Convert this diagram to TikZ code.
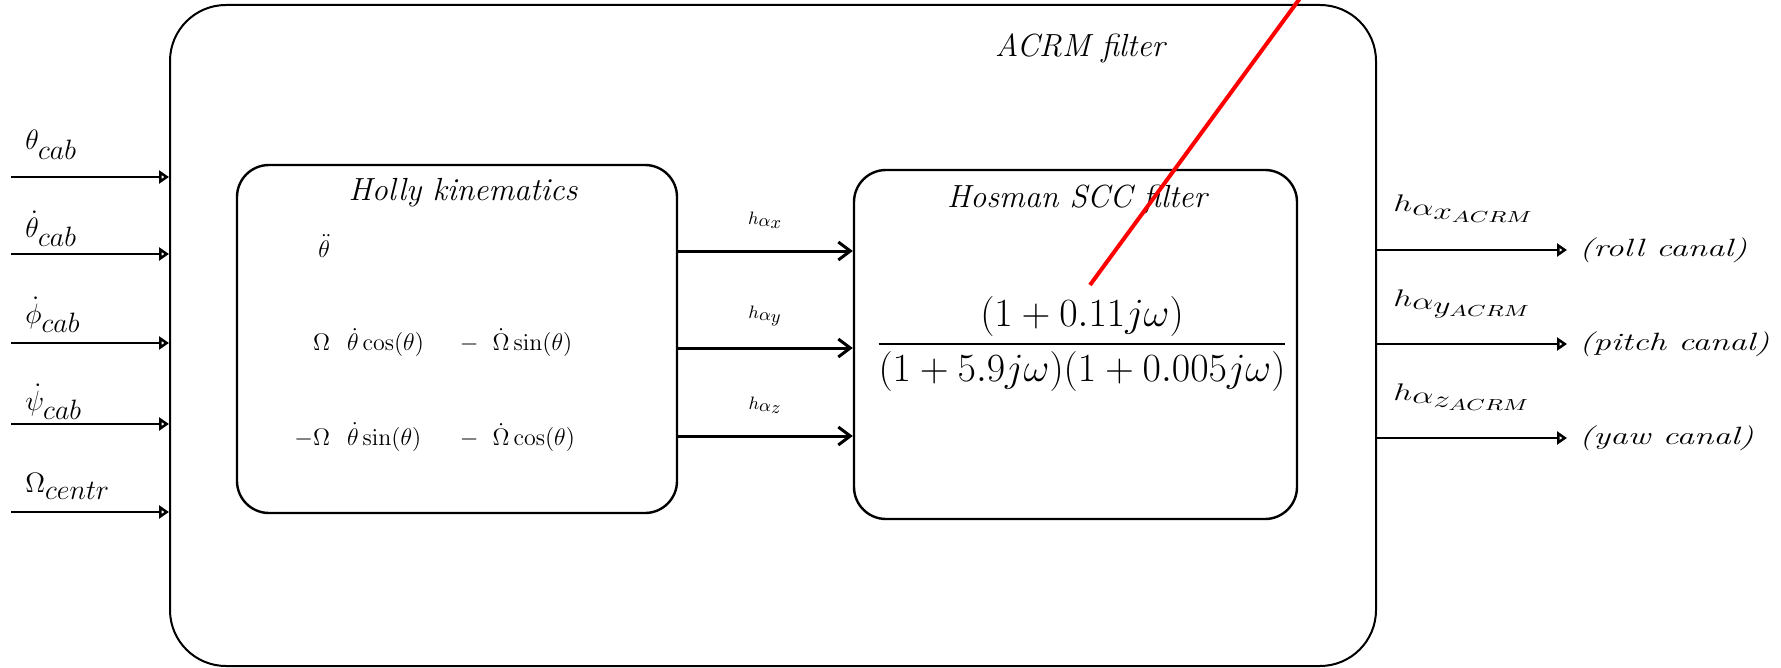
\RequirePackage{fix-cm}
\documentclass[tikz,border=0pt]{standalone}
\usepackage{amsmath}
\usepackage{graphicx}
\usetikzlibrary{arrows.meta, positioning}

% stretched labels on the output side
\newcommand{\widetxt}[1]{\scalebox{1.4}[1]{#1}}

\begin{document}
\begin{tikzpicture}[x=0.5pt, y=-0.5pt,
    box/.style={draw, rounded corners=16pt, line width=1.2pt, inner sep=0pt},
    title/.style={font=\fontsize{16}{19}\selectfont\itshape},
    inlbl/.style={font=\fontsize{14}{17}\selectfont, inner sep=0pt},
    kin/.style={font=\fontsize{12}{14}\selectfont, inner sep=0pt},
    midlbl/.style={font=\fontsize{9}{11}\selectfont},
    outlbl/.style={font=\fontsize{12}{14}\selectfont, inner sep=0pt},
    canal/.style={font=\fontsize{12.5}{15}\selectfont\itshape, inner sep=0pt},
    io/.style={-{Triangle[open, length=5pt, width=6.5pt]}, line width=1.4pt},
    mid/.style={-{Straight Barb[length=6pt, width=9pt]}, line width=1.5pt}
]
\useasboundingbox (0,0) rectangle (1781,668);

% outer block
\node[draw, rounded corners=28pt, line width=1pt,
      minimum width=603pt, minimum height=330.5pt] (acrm) at (773,335.5) {};
\node[title] (acrmt) at (1080,48) {ACRM filter};

% inner blocks
\node[box, minimum width=220pt, minimum height=174pt] (hol) at (457,339) {};
\node[title] (holt) at (463,193) {Holly kinematics};
\node[box, minimum width=221.5pt, minimum height=174.5pt] (hos) at (1075.5,344.5) {};
\node[title] (host) at (1077,200) {Hosman SCC filter};

\node[font=\fontsize{20}{24}\selectfont] (tf) at (1082,344)
  {$\dfrac{(1+0.11j\omega)}{(1+5.9j\omega)(1+0.005j\omega)}$};

% kinematics rows
\node[kin, anchor=base west] (kin) at (294,257)
  {$\begin{array}[t]{@{}r@{\hspace{8.5pt}}l@{\hspace{18pt}}c@{\hspace{7pt}}l@{}}
    \ddot\theta \\[31.5pt]
    \Omega & \dot\theta\cos(\theta) & - & \dot\Omega\sin(\theta) \\[32pt]
    -\Omega & \dot\theta\sin(\theta) & - & \dot\Omega\cos(\theta)
  \end{array}$};

% inputs
\foreach \y/\b/\t [count=\i] in {177/150/\theta, 254/237/\dot\theta, 343/323/\dot\phi, 424/410/\dot\psi} {
  \coordinate (in\i) at (11,\y);
  \draw[io] (in\i) -- (in\i -| acrm.west);
  \node[inlbl, anchor=base west] (inl\i) at (25,\b) {$\t_{\textstyle cab}$};
}
\coordinate (in5) at (11,512);
\draw[io] (in5) -- (in5 -| acrm.west);
\node[inlbl, anchor=base west] (inl5) at (25,492) {$\Omega_{\textstyle centr}$};

% kinematics -> filter
\foreach \y/\s in {251/x, 348/y, 436/z}
  \draw[mid] (hol.east |- 0,\y) -- node[midlbl, above=7pt] (hl\s)
    {$h_{\textstyle\alpha_{\textstyle\s}}$} (hos.west |- 0,\y);

% outputs
\foreach \y/\s/\c [count=\i] in {250/x/roll, 344/y/pitch, 438/z/yaw} {
  \coordinate (out\i) at (1567,\y);
  \draw[io] (out\i -| acrm.east) -- (out\i);
  \node[outlbl, anchor=base west] (ol\i) at (1393,\y-38)
    {\widetxt{$h_{\textstyle\alpha_{\textstyle\s_{ACRM}}}$}};
  \node[canal, right=6pt of out\i] (cn\i) {\widetxt{(\c\ canal)}};
}

% red stroke
\coordinate (rd0) at (1090,285);
\coordinate (rd1) at (1306,-10);
\draw[red, line width=2pt] (rd0) -- (rd1);
\end{tikzpicture}
\end{document}
